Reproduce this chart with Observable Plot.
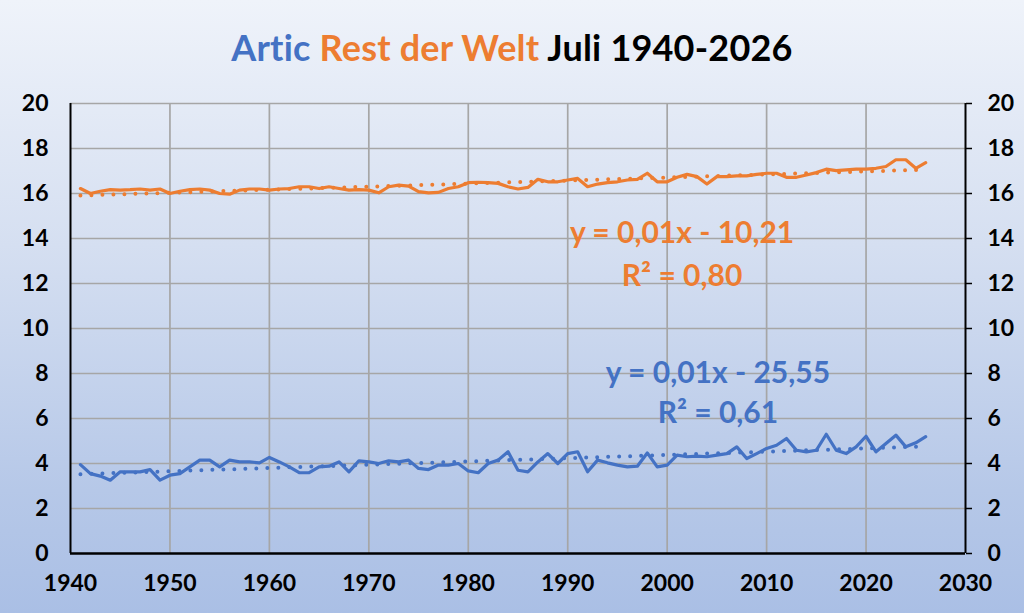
<!DOCTYPE html>
<html>
<head>
<meta charset="utf-8">
<script src="https://cdn.jsdelivr.net/npm/d3@7"></script>
<script src="https://cdn.jsdelivr.net/npm/@observablehq/plot@0.6"></script>
<style>
  html, body { margin: 0; padding: 0; }
  body {
    width: 1024px; height: 613px; overflow: hidden;
    background: linear-gradient(to bottom, #eff3fa 0%, #d5dff1 40%, #b6c8e8 80%, #aabfe5 100%);
    font-family: Lato, "Open Sans", sans-serif;
  }
  #title {
    height: 80px; line-height: 94px; text-align: center;
    font-size: 36px; font-weight: bold; color: #000; letter-spacing: 0.2px;
  }
  #chart svg { display: block; }
</style>
</head>
<body>
<div id="title"><span style="color:#4472c4">Artic</span> <span style="color:#ed7d31">Rest der Welt</span> Juli 1940-2026</div>
<div id="chart"></div>
<script>
const years = d3.range(1941, 2027);
const arctic = [
  3.95, 3.55, 3.44, 3.26, 3.63, 3.63, 3.63, 3.73, 3.26, 3.48,
  3.55, 3.85, 4.15, 4.15, 3.85, 4.15, 4.07, 4.07, 4.03, 4.27,
  4.07, 3.85, 3.59, 3.59, 3.85, 3.88, 4.07, 3.63, 4.12, 4.07,
  4.00, 4.12, 4.07, 4.15, 3.78, 3.73, 3.93, 3.93, 4.00, 3.67,
  3.59, 4.00, 4.15, 4.52, 3.70, 3.63, 4.07, 4.44, 4.00, 4.44,
  4.52, 3.63, 4.15, 4.03, 3.93, 3.85, 3.88, 4.47, 3.85, 3.93,
  4.37, 4.30, 4.33, 4.30, 4.37, 4.44, 4.74, 4.22, 4.44, 4.67,
  4.81, 5.11, 4.59, 4.52, 4.59, 5.30, 4.59, 4.44, 4.74, 5.21,
  4.52, 4.89, 5.26, 4.74, 4.92, 5.19
];
const restOfWorld = [
  16.22, 16.00, 16.10, 16.17, 16.15, 16.17, 16.20, 16.15, 16.20, 16.00,
  16.10, 16.17, 16.20, 16.15, 16.00, 15.97, 16.15, 16.20, 16.20, 16.15,
  16.20, 16.22, 16.30, 16.30, 16.22, 16.30, 16.22, 16.15, 16.17, 16.15,
  16.03, 16.30, 16.37, 16.33, 16.08, 16.03, 16.05, 16.22, 16.30, 16.48,
  16.50, 16.48, 16.45, 16.30, 16.20, 16.27, 16.63, 16.52, 16.52, 16.60,
  16.67, 16.30, 16.42, 16.48, 16.52, 16.60, 16.63, 16.90, 16.52, 16.52,
  16.72, 16.85, 16.75, 16.42, 16.75, 16.75, 16.78, 16.78, 16.85, 16.90,
  16.90, 16.72, 16.72, 16.82, 16.93, 17.08, 17.02, 17.05, 17.08, 17.08,
  17.12, 17.20, 17.50, 17.50, 17.12, 17.37
];
const xDomain = [1940, 2030];
const xTicks = [1940, 1950, 1960, 1970, 1980, 1990, 2000, 2010, 2020, 2030];
const yDomain = [0, 20];
const yTicks = [0, 2, 4, 6, 8, 10, 12, 14, 16, 18, 20];
const annotations = [
  {x: 2001.5, y: 14.22, text: "y = 0,01x - 10,21", color: "#ed7d31"},
  {x: 2001.5, y: 12.3, text: "R² = 0,80", color: "#ed7d31"},
  {x: 2005.1, y: 7.99, text: "y = 0,01x - 25,55", color: "#4472c4"},
  {x: 2005.1, y: 6.23, text: "R² = 0,61", color: "#4472c4"}
];

const BLUE = "#4472c4", ORANGE = "#ed7d31", GRID = "#a6a6a6";
const data = years.map((year, i) => ({year, arctic: arctic[i], rest: restOfWorld[i]}));
const gridXTicks = xTicks.slice(1, -1);
const gridYTicks = yTicks.slice(1);

const chart = Plot.plot({
  width: 1024,
  height: 523,
  marginTop: 23,
  marginBottom: 50,
  marginLeft: 70,
  marginRight: 59,
  style: {background: "transparent", fontFamily: "Lato, 'Open Sans', sans-serif", color: "#000"},
  x: {domain: xDomain, ticks: xTicks, tickFormat: d => String(d)},
  y: {domain: yDomain, ticks: yTicks},
  marks: [
    Plot.gridX(gridXTicks, {stroke: GRID, strokeOpacity: 1, strokeWidth: 1.7}),
    Plot.gridY(gridYTicks, {stroke: GRID, strokeOpacity: 1, strokeWidth: 1.7}),
    Plot.axisX(xTicks, {anchor: "bottom", tickSize: 0, tickPadding: 21, fontSize: 23, fontWeight: "bold", tickFormat: d => String(d)}),
    Plot.axisY(yTicks, {anchor: "left", tickSize: 0, tickPadding: 22, fontSize: 23, fontWeight: "bold"}),
    Plot.axisY(yTicks, {anchor: "right", tickSize: 6, tickPadding: 16, fontSize: 23, fontWeight: "bold", stroke: "#000", strokeWidth: 1.5}),
    Plot.ruleX(xDomain, {stroke: "#000", strokeWidth: 2}),
    Plot.ruleY([yDomain[0]], {stroke: "#000", strokeWidth: 2.5}),
    Plot.linearRegressionY(data, {x: "year", y: "rest", stroke: ORANGE, ci: 0, strokeWidth: 4, strokeDasharray: "0,11", strokeLinecap: "round"}),
    Plot.linearRegressionY(data, {x: "year", y: "arctic", stroke: BLUE, ci: 0, strokeWidth: 4, strokeDasharray: "0,11", strokeLinecap: "round"}),
    Plot.line(data, {x: "year", y: "rest", stroke: ORANGE, strokeWidth: 3.2}),
    Plot.line(data, {x: "year", y: "arctic", stroke: BLUE, strokeWidth: 3.2}),
    Plot.text(annotations, {x: "x", y: "y", text: "text", fill: "color", fontSize: 30, fontWeight: "bold", textAnchor: "middle", lineAnchor: "middle"})
  ]
});
document.getElementById("chart").appendChild(chart);
</script>
</body>
</html>
